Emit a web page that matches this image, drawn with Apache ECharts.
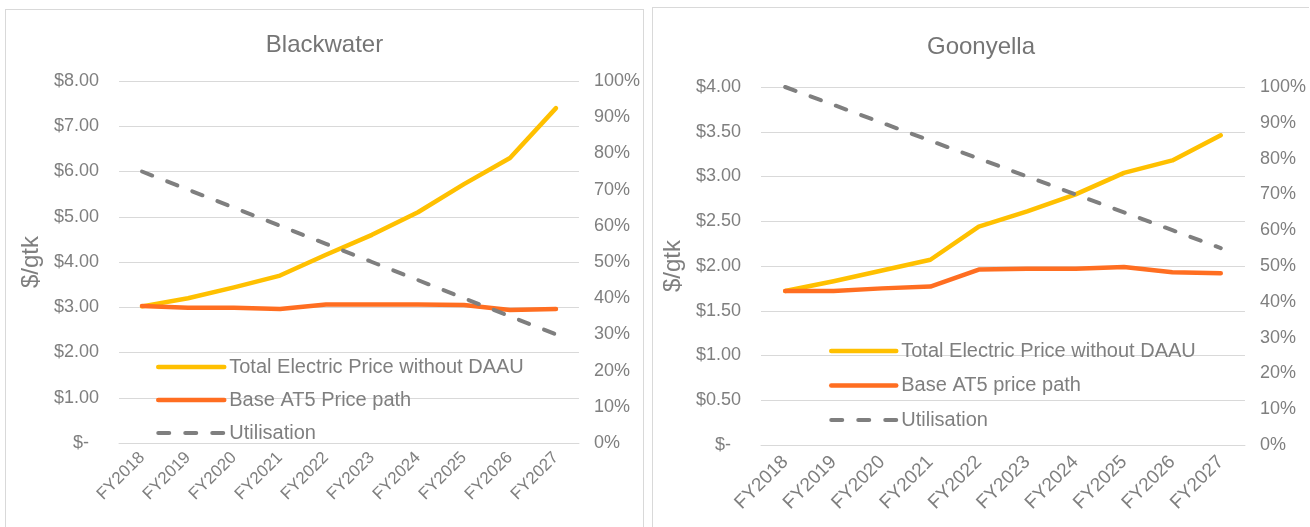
<!DOCTYPE html>
<html lang="en">
<head>
    <meta charset="UTF-8">
    <title>Blackwater / Goonyella</title>
    <script src="https://cdn.jsdelivr.net/npm/echarts@6/dist/echarts.min.js"></script>
    <style>
        html,body{margin:0;padding:0;background:#fff;overflow:hidden;width:1310px;height:527px;}
        .panel{position:absolute;border:1px solid #d9d9d9;background:#fff;}
        #left{left:5px;top:9px;width:637px;height:540px;}
        #right{left:652px;top:7px;width:656px;height:540px;border-right:none;}
    </style>
</head>
<body>
    <div id="left" class="panel"></div>
    <div id="right" class="panel"></div>
    <script>
        let categories=['FY2018','FY2019','FY2020','FY2021','FY2022','FY2023','FY2024','FY2025','FY2026','FY2027'];
        let seriesNames=['Total Electric Price without DAAU','Utilisation'];

        // Blackwater
        let bwTotal=[3.02,3.20,3.44,3.70,4.16,4.60,5.10,5.72,6.30,7.40];
        let bwBase=[3.03,2.99,2.99,2.96,3.06,3.06,3.06,3.05,2.94,2.96];
        let bwUtil=[0.75,0.70,0.65,0.60,0.55,0.50,0.45,0.40,0.35,0.30];

        // Goonyella
        let gyTotal=[1.72,1.83,1.95,2.07,2.44,2.61,2.80,3.04,3.18,3.46];
        let gyBase=[1.72,1.72,1.75,1.77,1.96,1.97,1.97,1.99,1.93,1.92];
        let gyUtil=[1.00,0.95,0.90,0.85,0.80,0.75,0.70,0.65,0.60,0.55];

        let grey='#7f7f7f';
        let yellow='#ffc000';
        let orange='#ff6e21';
        let font='"Liberation Sans", Arial, sans-serif';

        function dollar(v){
            return v===0 ? '$-  ' : '$'+v.toFixed(2);
        }
        function pct(v){
            return Math.round(v*100)+'%';
        }
        // legend entry: plain line, no marker dot
        function legendItem(name,color,dashed){
            return {
                name,
                itemStyle:{opacity:0},
                lineStyle:{color,width:dashed ? 4 : 4.5,type:dashed ? [11,16] : 'solid',cap:'round'},
            };
        }

        function buildOption(cfg){
            return {
                animation:false,
                textStyle:{fontFamily:font},
                title:{
                    text:cfg.title,
                    left:'center',
                    top:cfg.titleTop,
                    padding:0,
                    textStyle:{color:'#757575',fontSize:24,fontWeight:'normal',fontFamily:font},
                },
                legend:{
                    orient:'vertical',
                    left:cfg.legendLeft,
                    top:cfg.legendTop,
                    itemWidth:cfg.legendWidth,
                    itemHeight:14,
                    itemGap:cfg.legendGap,
                    padding:0,
                    data:[
                        legendItem(seriesNames[0],yellow,false),
                        legendItem(cfg.baseName,orange,false),
                        legendItem(seriesNames[1],grey,true),
                    ],
                    textStyle:{color:grey,fontSize:20,lineHeight:22,fontFamily:font},
                },
                grid:{
                    left:cfg.grid[0],
                    top:cfg.grid[1],
                    width:cfg.grid[2],
                    height:cfg.grid[3],
                    containLabel:false,
                },
                xAxis:{
                    type:'category',
                    data:categories,
                    boundaryGap:true,
                    axisLine:{show:true,lineStyle:{color:'#d9d9d9',width:1}},
                    axisTick:{show:false},
                    axisLabel:{color:grey,fontSize:cfg.xFont,rotate:45,margin:cfg.xMargin,interval:0},
                },
                yAxis:[
                    {
                        type:'value',
                        min:0,
                        max:cfg.yMax,
                        interval:cfg.yStep,
                        name:'$/gtk',
                        nameLocation:'middle',
                        nameGap:cfg.nameGap,
                        nameTextStyle:{color:grey,fontSize:24},
                        axisLine:{show:false},
                        axisTick:{show:false},
                        splitLine:{lineStyle:{color:'#d9d9d9',width:1}},
                        axisLabel:{color:grey,fontSize:18,margin:20,formatter:dollar},
                    },
                    {
                        type:'value',
                        min:0,
                        max:1,
                        interval:0.1,
                        axisLine:{show:false},
                        axisTick:{show:false},
                        splitLine:{show:false},
                        axisLabel:{color:grey,fontSize:18,margin:15,formatter:pct},
                    },
                ],
                series:[
                    {
                        name:seriesNames[0],
                        type:'line',
                        symbol:'none',
                        data:cfg.total,
                        itemStyle:{color:yellow},
                        lineStyle:{color:yellow,width:4.5,cap:'round',join:'round'},
                    },
                    {
                        name:cfg.baseName,
                        type:'line',
                        symbol:'none',
                        data:cfg.base,
                        itemStyle:{color:orange},
                        lineStyle:{color:orange,width:4.5,cap:'round',join:'round'},
                    },
                    {
                        name:seriesNames[1],
                        type:'line',
                        symbol:'none',
                        yAxisIndex:1,
                        data:cfg.util,
                        itemStyle:{color:grey},
                        lineStyle:{color:grey,width:4,type:[11,16],cap:'round'},
                    },
                ],
            };
        }

        let leftChart=echarts.init(document.getElementById('left'));
        leftChart.setOption(buildOption({
            title:'Blackwater',
            titleTop:23,
            baseName:'Base AT5 Price path',
            total:bwTotal,
            base:bwBase,
            util:bwUtil,
            yMax:8,
            yStep:1,
            grid:[113,71,461,362],
            nameGap:76,
            xFont:17,
            xMargin:12,
            legendLeft:150,
            legendTop:346,
            legendWidth:66,
            legendGap:11,
        }));

        let rightChart=echarts.init(document.getElementById('right'));
        rightChart.setOption(buildOption({
            title:'Goonyella',
            titleTop:27,
            baseName:'Base AT5 price path',
            total:gyTotal,
            base:gyBase,
            util:gyUtil,
            yMax:4,
            yStep:0.5,
            grid:[106,79,486,358],
            nameGap:76,
            xFont:19,
            xMargin:14,
            legendLeft:176,
            legendTop:332,
            legendWidth:65,
            legendGap:12.5,
        }));
    </script>
</body>
</html>
